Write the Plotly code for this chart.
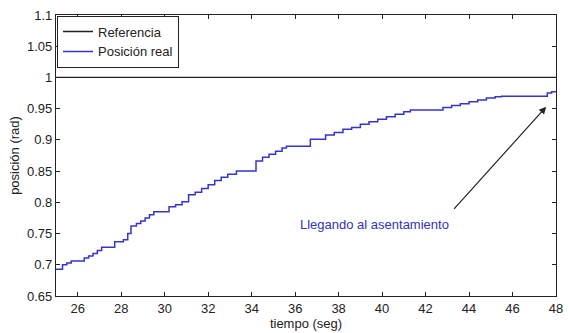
import plotly.graph_objects as go

# Data
tiempo = [25.0, 25.3, 25.5, 25.7, 26.3, 26.5, 26.7, 26.9, 27.1, 27.7, 28.1, 28.3, 28.45,
          28.7, 28.9, 29.1, 29.3, 29.5, 30.2, 30.5, 30.8, 31.1, 31.4, 31.7, 32.0, 32.3,
          32.6, 32.9, 33.3, 34.2, 34.5, 34.8, 35.1, 35.4, 35.6, 36.7, 37.4, 37.8, 38.2,
          38.6, 39.0, 39.4, 39.8, 40.2, 40.6, 41.0, 41.3, 42.8, 43.2, 43.6, 44.0, 44.4,
          44.8, 45.2, 45.5, 47.6, 47.8, 48.0]
posicion = [0.693, 0.700, 0.703, 0.706, 0.711, 0.714, 0.718, 0.723, 0.728, 0.737, 0.740,
            0.750, 0.762, 0.766, 0.770, 0.775, 0.780, 0.785, 0.793, 0.796, 0.801, 0.812,
            0.816, 0.822, 0.828, 0.835, 0.840, 0.845, 0.850, 0.866, 0.872, 0.877, 0.882,
            0.887, 0.890, 0.901, 0.908, 0.912, 0.917, 0.920, 0.925, 0.929, 0.933, 0.937,
            0.941, 0.945, 0.948, 0.952, 0.955, 0.958, 0.961, 0.964, 0.967, 0.969, 0.970,
            0.975, 0.977, 0.977]
ref_t = [25.0, 48.0]
ref_val = [1.0, 1.0]

x_ticks = [26, 28, 30, 32, 34, 36, 38, 40, 42, 44, 46, 48]
y_ticks = [0.65, 0.7, 0.75, 0.8, 0.85, 0.9, 0.95, 1.0, 1.05, 1.1]
y_ticktext = ["0.65", "0.7", "0.75", "0.8", "0.85", "0.9", "0.95", "1", "1.05", "1.1"]

arrow_tip = (47.55, 0.953)
arrow_tail = (43.25, 0.787)
note_pos = (39.65, 0.765)
note_text = "Llegando al asentamiento"

FONT = "Liberation Sans, Arial, sans-serif"
FS = 13

fig = go.Figure()
fig.add_trace(go.Scatter(x=ref_t, y=ref_val, mode="lines", name="Referencia",
                         line=dict(color="#222222", width=1.3)))
fig.add_trace(go.Scatter(x=tiempo, y=posicion, mode="lines", name="Posición real",
                         line=dict(color="#3535cc", width=1.5, shape="hv")))

fig.add_annotation(x=arrow_tip[0], y=arrow_tip[1], ax=arrow_tail[0], ay=arrow_tail[1],
                   xref="x", yref="y", axref="x", ayref="y", text="",
                   showarrow=True, arrowhead=2, arrowsize=1.2, arrowwidth=1.2,
                   arrowcolor="#222222")
fig.add_annotation(x=note_pos[0], y=note_pos[1], xref="x", yref="y", text=note_text,
                   showarrow=False, font=dict(family=FONT, size=FS, color="#3333bb"))

axis_common = dict(showline=True, linecolor="#222222", linewidth=1.2, mirror="ticks",
                   ticks="inside", ticklen=4, tickcolor="#222222", showgrid=False,
                   zeroline=False, tickfont=dict(family=FONT, size=FS, color="#222222"))

fig.update_layout(
    width=571, height=333,
    margin=dict(l=56, r=8, t=13, b=33),
    paper_bgcolor="white", plot_bgcolor="white",
    font=dict(family=FONT, size=FS, color="#222222"),
    xaxis=dict(range=[25, 48], tickvals=x_ticks,
               title=dict(text="tiempo (seg)", standoff=0,
                          font=dict(family=FONT, size=FS, color="#222222")),
               **axis_common),
    yaxis=dict(range=[0.65, 1.1], tickvals=y_ticks, ticktext=y_ticktext,
               title=dict(text="posición (rad)", standoff=4,
                          font=dict(family=FONT, size=FS, color="#222222")),
               **axis_common),
    legend=dict(x=0.002, y=0.998, xanchor="left", yanchor="top",
                bgcolor="white", bordercolor="#222222", borderwidth=1,
                font=dict(family=FONT, size=FS, color="#222222"),
                itemwidth=30, tracegroupgap=0),
    showlegend=True,
)

# Remove the default page-body margin so the figure fills the window exactly.
fig.write_html("out.html", config={"displayModeBar": False},
               post_script="document.body.style.margin='0';")
